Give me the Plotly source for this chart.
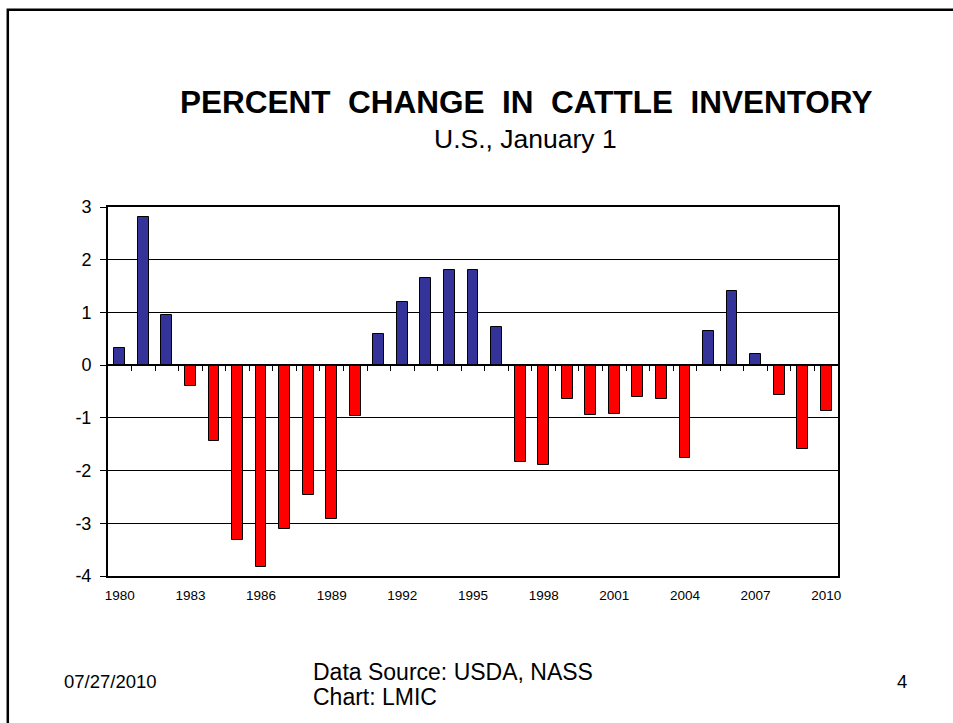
import plotly.graph_objects as go

years = list(range(1980, 2011))
pct_change = [0.33, 2.81, 0.95, -0.40, -1.44, -3.32, -3.83, -3.11, -2.46, -2.91,
              -0.97, 0.60, 1.20, 1.65, 1.81, 1.81, 0.72, -1.84, -1.89, -0.65,
              -0.94, -0.92, -0.60, -0.65, -1.77, 0.65, 1.40, 0.22, -0.57, -1.59,
              -0.87]
tick_years = list(range(1980, 2011, 3))
y_ticks = [-4, -3, -2, -1, 0, 1, 2, 3]

POS_COLOR = "#333399"
NEG_COLOR = "#FF0000"
FONT = "Liberation Sans, Arial, sans-serif"

W, H = 953, 723
L, R, T, B = 108, 838, 207.3, 575.7   # plot area in pixels


def px(x):
    return (x - L) / (R - L)


def py(y):
    return (B - y) / (B - T)


colors = [POS_COLOR if v >= 0 else NEG_COLOR for v in pct_change]

fig = go.Figure()
fig.add_trace(go.Bar(
    x=years, y=pct_change, width=0.46,
    marker=dict(color=colors, line=dict(color="black", width=1)),
    showlegend=False, hoverinfo="x+y",
))
# helper trace so the zero-line axis (x2) exists
fig.add_trace(go.Scatter(x=[], y=[], xaxis="x2", yaxis="y", showlegend=False))

fig.update_layout(
    width=W, height=H,
    margin=dict(l=L, r=W - R, t=T, b=H - B),
    paper_bgcolor="white", plot_bgcolor="white",
    font=dict(family=FONT, color="black"),
    bargap=0,
    xaxis=dict(
        range=[1979.5, 2010.5], tickvals=tick_years,
        ticktext=[str(y) for y in tick_years],
        ticks="", showgrid=False, zeroline=False,
        showline=True, linecolor="black", linewidth=2, mirror=True,
        tickfont=dict(size=13.5, family=FONT, color="black"),
        ticklabelstandoff=6,
    ),
    xaxis2=dict(
        overlaying="x", anchor="free", position=4 / 7,
        range=[1979.5, 2010.5],
        tickvals=[y + 0.5 for y in years[:-1]],
        ticks="outside", ticklen=5, tickwidth=1, tickcolor="black",
        showticklabels=False, showgrid=False, zeroline=False,
        showline=True, linecolor="black", linewidth=1.5,
    ),
    yaxis=dict(
        range=[-4, 3], tickvals=y_ticks, ticktext=[str(v) for v in y_ticks],
        ticks="outside", ticklen=6, tickwidth=1, tickcolor="black",
        showgrid=True, gridcolor="black", gridwidth=1, zeroline=False,
        showline=True, linecolor="black", linewidth=2, mirror=True,
        tickfont=dict(size=18, family=FONT, color="black"),
        ticklabelstandoff=5,
    ),
)

# slide border
fig.add_shape(type="rect", xref="paper", yref="paper",
              x0=px(7.8), x1=px(965), y0=py(740), y1=py(10.3),
              line=dict(color="black", width=2.5), fillcolor="rgba(0,0,0,0)")

GAP = "\u00a0 "
title_text = GAP.join(["PERCENT", "CHANGE", "IN", "CATTLE", "INVENTORY"])

annotations = [
    dict(text="<b>" + title_text + "</b>",
         x=px(526), y=py(102), font=dict(size=31.5, family=FONT, color="black"),
         xanchor="center", yanchor="middle"),
    dict(text="U.S., January 1", x=px(525), y=py(139),
         font=dict(size=26.5, family=FONT, color="black"),
         xanchor="center", yanchor="middle"),
    dict(text="07/27/2010", x=px(110), y=py(681),
         font=dict(size=18.5, family=FONT, color="black"),
         xanchor="center", yanchor="middle"),
    dict(text="Data Source: USDA, NASS", x=px(311), y=py(672),
         font=dict(size=23, family=FONT, color="black"), align="left",
         xanchor="left", yanchor="middle"),
    dict(text="Chart: LMIC", x=px(311), y=py(697),
         font=dict(size=23, family=FONT, color="black"), align="left",
         xanchor="left", yanchor="middle"),
    dict(text="4", x=px(902), y=py(681.5),
         font=dict(size=18.5, family=FONT, color="black"),
         xanchor="center", yanchor="middle"),
]
for a in annotations:
    fig.add_annotation(xref="paper", yref="paper", showarrow=False, **a)

fig.write_html("out.html", config={"displayModeBar": False},
               post_script="document.body.style.margin='0';")
